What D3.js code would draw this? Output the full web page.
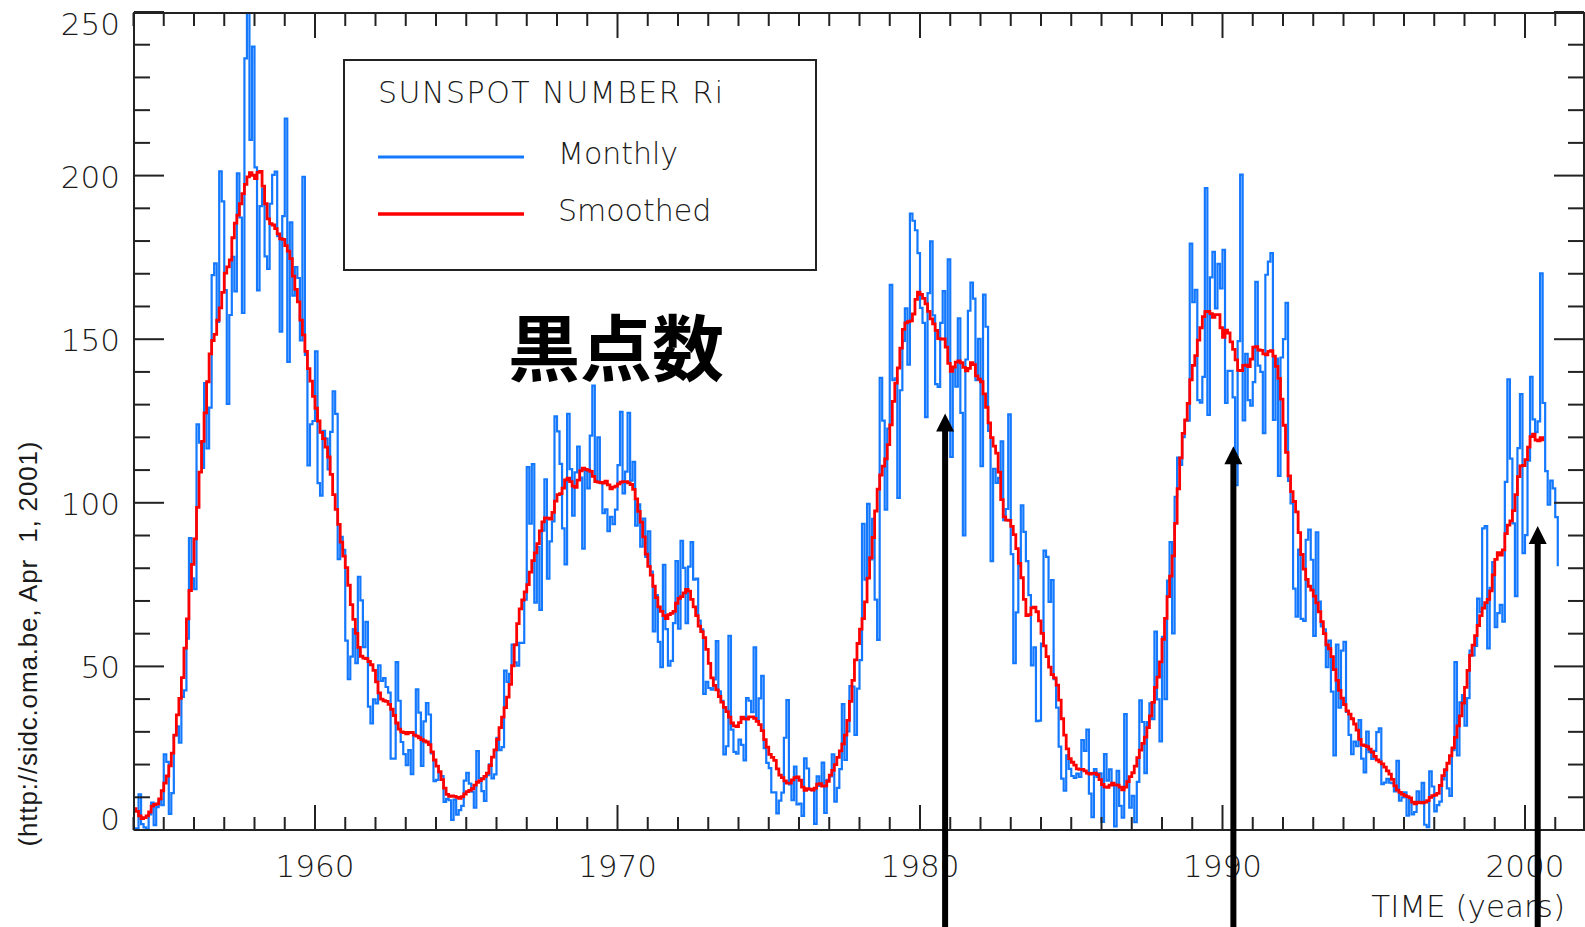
<!DOCTYPE html>
<html>
<head>
<meta charset="utf-8">
<script src="https://cdn.jsdelivr.net/npm/d3@7"></script>
<style>
  html, body { margin: 0; padding: 0; background: #fff; }
  svg { display: block; }
  .tick-label { font-family: "DejaVu Sans", sans-serif; font-weight: 200; font-size: 31px; fill: #1a1a1a; }
  .legend-text { font-family: "DejaVu Sans", sans-serif; font-weight: 200; font-size: 30px; fill: #1a1a1a; }
</style>
</head>
<body>
<div id="chart"></div>
<script>
// ---- data (SIDC international sunspot number, monthly and 13-month smoothed) ----
const startYear = 1954;

const monthly = [
  0.2, 0.5, 10.9, 1.8, 0.8, 0.2, 4.8, 8.4, 1.5, 7.0, 9.2, 7.6,               // 1954
  23.1, 20.8, 4.9, 11.3, 28.9, 31.7, 26.7, 40.7, 42.7, 58.5, 89.2, 76.9,     // 1955
  73.6, 124.0, 118.4, 110.7, 136.6, 116.6, 129.1, 169.6, 173.2, 155.3, 201.3, 192.1,
  165.0, 130.2, 157.4, 175.2, 164.6, 200.7, 187.2, 158.0, 235.8, 253.8, 210.9, 239.4,
  202.5, 164.9, 190.7, 196.0, 175.3, 171.5, 191.4, 200.2, 201.2, 181.5, 152.3, 187.6,
  217.4, 143.1, 185.7, 163.3, 172.0, 168.7, 149.6, 199.6, 145.2, 111.4, 124.0, 125.0,
  146.3, 106.0, 102.2, 122.0, 119.6, 110.2, 121.7, 134.1, 127.2, 82.8, 89.6, 85.6,   // 1960
  57.9, 46.1, 53.0, 61.4, 51.0, 77.4, 70.2, 55.9, 63.6, 37.7, 32.6, 39.9,
  38.7, 50.3, 45.6, 46.4, 43.7, 42.0, 21.8, 21.8, 51.3, 39.5, 26.9, 23.2,
  19.8, 24.4, 17.1, 29.3, 43.0, 35.9, 19.6, 33.2, 38.8, 35.3, 23.4, 14.9,
  15.3, 17.7, 16.5, 8.6, 9.5, 9.1, 3.1, 9.3, 4.7, 6.1, 7.4, 15.1,
  17.5, 14.2, 11.7, 6.8, 24.1, 15.9, 11.9, 8.9, 16.8, 20.1, 15.8, 17.0,
  28.2, 24.4, 25.3, 48.7, 45.3, 47.7, 56.7, 51.2, 50.2, 57.2, 57.2, 70.4,
  110.9, 93.6, 111.8, 69.5, 86.5, 67.3, 91.5, 107.2, 76.8, 88.2, 94.3, 126.4,
  121.8, 111.9, 92.2, 81.2, 127.2, 110.3, 96.1, 109.3, 117.2, 107.7, 86.0, 109.8,
  104.4, 120.5, 135.8, 106.8, 120.0, 106.0, 96.8, 98.0, 91.3, 95.7, 93.5, 97.9,
  111.5, 127.8, 102.9, 109.5, 127.5, 106.8, 112.5, 93.0, 99.5, 86.6, 95.2, 83.5,   // 1970
  91.3, 79.0, 60.7, 71.8, 57.5, 49.8, 81.0, 61.4, 50.2, 51.7, 63.2, 82.2,
  61.5, 88.4, 80.1, 63.2, 80.5, 88.0, 76.5, 76.8, 64.0, 61.3, 41.6, 45.3,
  43.4, 42.9, 46.0, 57.7, 42.4, 39.5, 23.1, 25.6, 59.3, 30.7, 23.9, 23.3,
  27.6, 26.0, 21.3, 40.3, 39.5, 36.0, 55.8, 33.6, 40.2, 47.1, 25.0, 20.5,
  18.9, 11.5, 11.5, 5.1, 9.0, 11.4, 28.2, 39.7, 13.9, 9.1, 19.4, 7.8,
  8.1, 4.3, 21.9, 18.8, 12.4, 12.2, 1.9, 16.4, 13.5, 20.6, 5.2, 15.3,
  16.4, 23.1, 8.7, 12.9, 18.6, 38.5, 21.4, 30.1, 44.0, 43.8, 29.1, 43.2,
  51.9, 93.6, 76.5, 99.7, 82.7, 95.1, 70.4, 58.1, 138.2, 125.1, 97.9, 122.7,
  166.6, 137.5, 138.0, 101.5, 134.4, 149.5, 159.4, 142.2, 188.4, 186.2, 183.3, 176.3,
  159.6, 155.0, 126.2, 164.1, 179.9, 157.3, 136.3, 135.4, 155.0, 164.7, 147.9, 174.4,   // 1980
  114.0, 141.3, 135.5, 156.4, 127.5, 90.0, 143.8, 158.7, 167.3, 162.4, 137.5, 150.1,
  111.2, 163.6, 153.8, 122.0, 82.2, 110.4, 106.1, 107.6, 118.8, 94.7, 98.1, 127.0,
  84.3, 51.0, 66.5, 80.7, 99.2, 91.1, 82.2, 71.8, 50.3, 55.8, 33.3, 33.4,
  57.0, 85.4, 83.5, 69.7, 76.4, 46.1, 37.4, 25.5, 15.7, 12.0, 22.8, 18.7,
  16.5, 15.9, 17.2, 16.2, 27.5, 24.2, 30.7, 11.1, 3.9, 18.6, 16.2, 17.3,
  2.5, 23.2, 15.1, 18.5, 13.7, 1.1, 18.1, 7.4, 3.8, 35.4, 15.2, 6.8,
  10.4, 2.4, 14.7, 39.6, 33.0, 17.4, 33.0, 38.7, 33.9, 60.6, 39.9, 27.1,
  59.0, 40.0, 76.2, 88.0, 60.1, 101.8, 113.8, 111.6, 120.1, 125.1, 125.1, 179.2,
  161.3, 165.1, 131.4, 130.6, 138.5, 196.2, 126.9, 168.9, 176.7, 159.4, 173.0, 165.5,
  177.3, 130.5, 140.3, 140.3, 132.2, 105.4, 149.4, 200.3, 125.2, 145.5, 131.4, 129.7,   // 1990
  136.9, 167.5, 141.9, 140.0, 121.3, 169.7, 173.7, 176.3, 125.3, 144.1, 108.2, 144.4,
  150.0, 161.1, 106.7, 99.8, 73.8, 65.2, 85.7, 64.5, 63.9, 88.7, 91.8, 82.6,
  59.3, 91.0, 69.8, 62.2, 61.3, 49.8, 57.9, 42.3, 22.8, 56.7, 37.4, 54.8,
  57.5, 36.1, 29.1, 23.2, 27.0, 25.6, 33.6, 21.8, 17.6, 30.1, 23.8, 21.7,
  24.2, 29.9, 31.1, 14.0, 14.5, 15.6, 14.5, 14.3, 11.8, 21.1, 9.0, 10.0,
  11.5, 4.4, 9.2, 4.8, 5.5, 11.8, 8.2, 14.4, 1.6, 0.9, 17.9, 13.3,
  5.7, 7.6, 8.7, 15.5, 18.5, 12.7, 10.4, 24.4, 51.3, 22.8, 39.0, 41.2,
  31.9, 40.3, 54.8, 53.4, 56.3, 70.7, 66.6, 92.2, 92.9, 55.5, 74.0, 81.9,
  62.0, 66.3, 68.8, 63.7, 106.4, 137.7, 113.5, 93.7, 71.5, 116.7, 133.2, 84.6,
  90.1, 112.9, 138.5, 125.5, 121.6, 124.9, 170.1, 130.5, 109.7, 99.4, 106.8, 104.4,   // 2000
  95.6, 80.6                                                                         // 2001
];

const smoothed = [
  6.5, 5.7, 4.3, 3.5, 3.8, 4.3, 5.5, 7.3, 7.8, 8.0, 9.5, 12.0,               // 1954
  14.3, 16.5, 19.6, 23.5, 29.0, 35.2, 40.2, 46.6, 55.6, 64.5, 73.2, 81.2,
  89.0, 98.6, 109.4, 118.8, 127.5, 137.0, 145.5, 149.6, 151.5, 155.8, 159.6, 164.3,
  170.2, 172.1, 174.2, 181.0, 185.5, 187.9, 191.4, 194.5, 197.3, 199.6, 200.9, 200.1,
  199.1, 201.0, 201.3, 196.8, 191.4, 186.8, 185.3, 184.9, 183.8, 182.2, 180.7, 180.5,
  178.6, 176.9, 174.6, 169.3, 165.2, 161.4, 155.8, 151.3, 146.3, 141.0, 137.2, 132.5,
  128.9, 125.0, 121.5, 119.6, 117.0, 114.0, 108.7, 102.5, 98.0, 93.4, 88.0, 83.7,   // 1960
  80.2, 74.8, 68.9, 64.4, 60.1, 55.8, 53.1, 52.5, 52.4, 51.5, 50.5, 48.8,
  45.3, 41.9, 40.0, 39.5, 39.3, 38.4, 36.9, 35.0, 32.7, 30.8, 30.0, 29.8,
  29.4, 29.8, 29.8, 29.0, 28.7, 28.2, 27.6, 27.2, 26.9, 26.1, 23.9, 21.4,
  19.5, 17.8, 15.4, 12.8, 10.9, 10.3, 10.4, 10.3, 10.0, 9.7, 10.2, 11.0,
  11.7, 12.1, 12.6, 13.7, 14.6, 15.1, 15.6, 16.4, 17.4, 19.7, 22.3, 24.5,
  27.7, 31.3, 34.5, 37.4, 40.6, 44.5, 50.2, 56.6, 63.1, 67.6, 70.3, 72.8,
  75.0, 78.8, 82.3, 84.7, 87.5, 91.4, 94.2, 95.4, 95.3, 95.0, 97.1, 100.5,
  102.5, 102.8, 104.5, 107.0, 107.5, 106.5, 105.1, 104.7, 106.9, 109.8, 110.6, 110.2,
  110.0, 109.6, 108.1, 106.5, 106.3, 106.2, 106.0, 106.6, 105.5, 104.3, 104.8, 105.1,
  105.8, 106.3, 106.5, 106.5, 106.1, 105.6, 104.1, 101.2, 97.4, 94.1, 89.6, 84.3,   // 1970
  80.6, 77.9, 74.5, 71.0, 68.2, 66.8, 65.5, 64.6, 65.8, 66.2, 66.8, 69.3,
  70.8, 71.3, 72.5, 73.5, 73.0, 70.5, 68.2, 65.5, 62.3, 60.6, 58.8, 55.2,
  50.9, 46.5, 44.2, 42.8, 40.8, 39.1, 37.5, 36.2, 34.5, 32.7, 31.8, 31.6,
  32.8, 34.5, 34.0, 33.9, 34.6, 34.6, 34.1, 33.2, 32.2, 30.4, 27.6, 25.3,
  23.1, 22.2, 21.3, 18.7, 16.8, 16.0, 15.0, 14.3, 14.3, 15.3, 16.0, 16.2,
  15.2, 13.1, 12.1, 12.6, 12.5, 12.2, 12.8, 14.0, 14.2, 13.4, 13.5, 14.9,
  16.8, 18.2, 20.0, 22.2, 24.2, 26.3, 29.0, 33.5, 39.3, 45.7, 52.0, 57.0,
  61.4, 64.6, 69.7, 77.0, 83.2, 89.4, 97.5, 104.2, 108.5, 111.2, 113.4, 117.8,
  123.8, 131.0, 136.6, 141.2, 147.3, 153.0, 155.0, 155.4, 155.6, 157.7, 162.2, 164.4,
  163.7, 162.5, 160.8, 158.5, 156.2, 154.7, 152.7, 150.2, 150.0, 150.1, 147.6, 142.6,   // 1980
  140.2, 141.5, 143.0, 143.4, 142.8, 141.4, 140.3, 141.1, 142.8, 142.2, 138.8, 137.8,
  137.0, 133.3, 129.2, 124.4, 119.9, 117.3, 115.2, 109.4, 101.0, 95.7, 94.7, 94.6,
  92.8, 90.3, 86.0, 81.5, 77.1, 70.5, 65.5, 65.8, 67.9, 68.1, 66.7, 63.9,
  60.1, 56.3, 53.0, 49.8, 47.5, 46.5, 44.3, 39.7, 34.0, 29.0, 24.8, 21.8,
  20.7, 19.8, 18.7, 18.5, 18.5, 18.1, 17.4, 17.1, 17.3, 17.4, 16.9, 15.4,
  13.9, 13.2, 13.0, 13.7, 14.3, 13.8, 13.7, 13.1, 12.3, 13.1, 14.8, 16.3,
  17.5, 19.5, 22.1, 24.4, 26.5, 28.4, 31.3, 34.9, 39.0, 43.6, 46.7, 51.4,
  58.3, 64.7, 71.3, 77.6, 83.8, 93.7, 104.3, 113.7, 121.2, 125.3, 130.4, 137.6,
  142.0, 145.0, 149.7, 153.5, 156.9, 158.4, 158.5, 157.8, 156.7, 157.5, 157.5, 153.5,
  150.6, 152.8, 151.9, 149.2, 146.9, 143.7, 140.5, 140.4, 142.0, 142.1, 141.6, 143.9,   // 1990
  147.6, 147.7, 146.7, 146.6, 145.5, 145.2, 146.3, 146.5, 144.8, 141.7, 138.0, 131.7,
  123.7, 115.4, 108.2, 103.4, 100.4, 97.2, 90.9, 84.2, 79.7, 76.6, 74.5, 73.3,
  71.5, 69.4, 66.7, 63.7, 60.0, 56.6, 55.4, 53.0, 49.0, 45.7, 42.7, 40.3,
  38.3, 36.4, 35.4, 34.0, 32.4, 30.5, 27.7, 26.0, 25.8, 25.5, 24.7, 23.8,
  22.5, 21.4, 20.8, 20.2, 19.2, 18.1, 17.1, 15.5, 13.5, 12.2, 11.5, 10.9,
  10.5, 10.2, 9.8, 8.5, 8.0, 8.5, 8.4, 8.3, 8.5, 9.0, 10.0, 10.5,
  10.7, 11.2, 13.6, 16.6, 18.4, 20.4, 22.7, 25.1, 28.3, 31.8, 34.9, 38.8,
  43.6, 48.8, 53.4, 56.5, 59.4, 62.5, 65.5, 67.8, 69.5, 70.5, 73.1, 78.0,
  82.7, 84.8, 84.0, 85.6, 90.6, 93.2, 94.5, 97.6, 102.5, 108.0, 111.3, 111.4,
  113.2, 117.0, 120.2, 121.0, 119.2, 118.9, 119.9, 118.8                       // 2000
];

const yTicks = [0, 50, 100, 150, 200, 250];
const xTicks = [1960, 1970, 1980, 1990, 2000];

// annotation arrows: year they point at and the value of the tip
const arrowYears = [1980.83, 1990.36, 2000.42];
const arrowTips = [127.3, 117.3, 92.9];

const legendTitle = "SUNSPOT NUMBER Ri";
const seriesNames = ["Monthly", "Smoothed"];
const seriesColors = ["#1479ff", "#ff0000"];

// ---- layout ----
const W = 1585, H = 927;
const x = d3.scaleLinear().domain([1954, 2002]).range([133.5, 1585.5]);
const y = d3.scaleLinear().domain([0, 250]).range([830, 12]);

const svg = d3.select("#chart").append("svg")
    .attr("width", W)
    .attr("height", H);

svg.append("defs").append("clipPath")
    .attr("id", "plot-clip")
  .append("rect")
    .attr("x", x(1954)).attr("y", y(250))
    .attr("width", x(2002) - x(1954)).attr("height", y(0) - y(250));

const toPoints = arr => arr.map((v, i) => ({ t: startYear + i / 12, v: v }));

const line = d3.line()
    .x(d => x(d.t))
    .y(d => y(d.v))
    .curve(d3.curveStepAfter);

const plot = svg.append("g").attr("clip-path", "url(#plot-clip)");

plot.append("path")
    .attr("d", line(toPoints(monthly)))
    .style("fill", "none")
    .style("stroke", seriesColors[0])
    .style("stroke-width", 2.2);

plot.append("path")
    .attr("d", line(toPoints(smoothed)))
    .style("fill", "none")
    .style("stroke", seriesColors[1])
    .style("stroke-width", 2.8);

// ---- axes (ticks on all four sides, pointing inwards) ----
const axisColor = "#222";
const years = d3.range(1954, 2003);
const yMinor = d3.range(0, 251, 10);

function bottomTop(sel, yPos, dir) {
  sel.append("line")
      .attr("x1", x(1954)).attr("x2", x(2002))
      .attr("y1", yPos).attr("y2", yPos);
  sel.selectAll(null).data(years).enter().append("line")
      .attr("x1", d => x(d)).attr("x2", d => x(d))
      .attr("y1", yPos)
      .attr("y2", d => yPos + dir * (d % 10 === 0 ? 25 : 13));
}
function leftRight(sel, xPos, dir) {
  sel.append("line")
      .attr("x1", xPos).attr("x2", xPos)
      .attr("y1", y(0)).attr("y2", y(250));
  sel.selectAll(null).data(yMinor).enter().append("line")
      .attr("y1", d => y(d)).attr("y2", d => y(d))
      .attr("x1", xPos)
      .attr("x2", d => xPos + dir * (d % 50 === 0 ? 30 : 16));
}

const axes = svg.append("g")
    .style("stroke", axisColor)
    .style("stroke-width", 2);
bottomTop(axes.append("g"), y(0), -1);
bottomTop(axes.append("g"), y(250) + 1, 1);
leftRight(axes.append("g"), x(1954) + 0.5, 1);
leftRight(axes.append("g"), x(2002) - 1.5, -1);

// end labels are pulled inside the frame, the others are centred on the tick
function yLabelBaseline(d) {
  if (d === 0) return y(0);
  if (d === 250) return y(250) + 23;
  return y(d) + 12;
}

svg.selectAll(".ylab").data(yTicks).enter().append("text")
    .attr("class", "tick-label")
    .attr("x", 120)
    .attr("y", yLabelBaseline)
    .attr("text-anchor", "end")
    .text(d => d);

svg.selectAll(".xlab").data(xTicks).enter().append("text")
    .attr("class", "tick-label")
    .attr("x", d => x(d))
    .attr("y", 877)
    .attr("text-anchor", "middle")
    .text(d => d);

svg.append("text")
    .attr("class", "tick-label")
    .attr("x", 1565)
    .attr("y", 917)
    .attr("text-anchor", "end")
    .text("TIME (years)");

svg.append("text")
    .attr("transform", "translate(37,644) rotate(-90)")
    .attr("text-anchor", "middle")
    .attr("textLength", 405)
    .style("font-family", "'Liberation Sans', Arial, sans-serif")
    .style("font-size", "26px")
    .style("fill", "#1a1a1a")
    .style("white-space", "pre")
    .text("(http://sidc.oma.be, Apr  1, 2001)");

// ---- legend ----
const legend = svg.append("g");
legend.append("rect")
    .attr("x", 344).attr("y", 60)
    .attr("width", 472).attr("height", 210)
    .style("fill", "none")
    .style("stroke", axisColor)
    .style("stroke-width", 2);

legend.append("text")
    .attr("class", "legend-text")
    .attr("x", 378).attr("y", 103)
    .attr("textLength", 345)
    .text(legendTitle);

const legendRows = [157, 214];
seriesNames.forEach((name, i) => {
  legend.append("line")
      .attr("x1", 378).attr("x2", 524)
      .attr("y1", legendRows[i]).attr("y2", legendRows[i])
      .style("stroke", seriesColors[i])
      .style("stroke-width", i === 0 ? 3 : 3.5);
  legend.append("text")
      .attr("class", "legend-text")
      .attr("x", 558).attr("y", legendRows[i] + 7)
      .text(name);
});

// ---- annotations ----
svg.append("text")
    .attr("x", 616).attr("y", 343)
    .attr("text-anchor", "middle")
    .attr("dominant-baseline", "central")
    .style("font-family", "'Noto Sans CJK JP', sans-serif")
    .style("font-weight", 700)
    .style("font-size", "72px")
    .style("fill", "#000")
    .text("黒点数");

const arrows = svg.append("g");
arrowYears.forEach((yr, i) => {
  const ax = x(yr), ay = y(arrowTips[i]);
  arrows.append("line")
      .attr("x1", ax).attr("x2", ax)
      .attr("y1", ay + 10).attr("y2", H)
      .style("stroke", "#000")
      .style("stroke-width", 6);
  arrows.append("path")
      .attr("d", `M${ax},${ay} L${ax + 9},${ay + 18} L${ax - 9},${ay + 18} Z`)
      .style("fill", "#000");
});
</script>
</body>
</html>
